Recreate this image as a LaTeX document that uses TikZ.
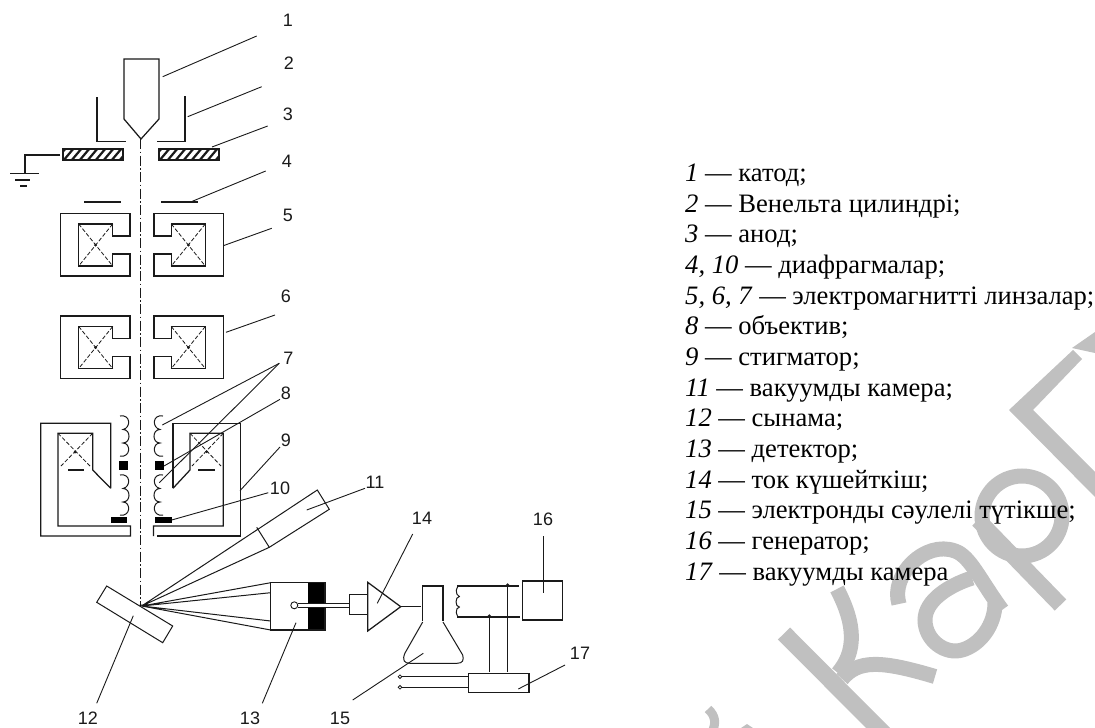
\documentclass[tikz,border=0pt]{standalone}
\usepackage{fontspec}
\setmainfont{Liberation Serif}
\newfontfamily\labfont{Liberation Sans}
\definecolor{ink}{HTML}{1A1A1A}
\definecolor{wm}{HTML}{C0C0C0}
\tikzset{
  part/.style={draw=ink,line width=1.25pt,line join=miter},
  leaderline/.style={draw=ink,line width=0.9pt},
  xcross/.style={draw=ink,line width=0.8pt,dash pattern=on 4pt off 2pt},
  axisline/.style={draw=ink,line width=0.9pt,dash pattern=on 10pt off 2.5pt on 1.5pt off 2.5pt},
  numlabel/.style={font=\labfont\fontsize{18}{20}\selectfont,text=ink,inner sep=0pt,anchor=center},
  legendline/.style={font=\fontsize{26.6}{30}\selectfont,text=black,inner sep=0pt,anchor=base west},
  wmstroke/.style={draw=wm,line width=#1,line cap=butt,line join=miter},
}
\newcommand{\leaderln}[3]{\coordinate (la#1) at #2;\coordinate (lb#1) at #3;\draw[leaderline] (la#1) -- (lb#1);}
\newcommand{\lenscore}{%
  \draw[part] (60.7,0)--(130,0)--(130,22.5)--(112.7,22.5)--(112.7,10.5)--(78.7,10.5)--(78.7,52.5)--(112.7,52.5)--(112.7,40.5)--(130,40.5)--(130,62.5)--(60.7,62.5)--cycle;
  \draw[xcross] (78.7,10.5)--(112.7,52.5) (112.7,10.5)--(78.7,52.5);
  \fill[ink] (95.5,31.5) circle (1.5);
}
\newcommand{\coilshape}{%
  \draw[part,line width=1pt] (0,0) .. controls (11,-2) and (11,12) .. (3,13.5)
    .. controls (11,13.5) and (11,27) .. (3,27)
    .. controls (11,27) and (11,42) .. (0,40);
}
\begin{document}
\begin{tikzpicture}[x=1pt,y=-1pt]
\useasboundingbox (0,0) rectangle (1095,728);
\fill[white] (0,0) rectangle (1095,728);
% watermark
\begin{scope}
\clip (0,0) rectangle (1095,728);
\draw[wmstroke=17pt] (784,633.5) -- (884,734);
\draw[wmstroke=15pt] (838,673) .. controls (856,652) and (856,625) .. (837,589);
\draw[wmstroke=15pt] (842,679) .. controls (858,660) and (880,660) .. (935,676.5);
\draw[wmstroke=15pt] (899,604) .. controls (890,575) and (925,540) .. (955,551) .. controls (970,556) and (980,580) .. (1002,610);
\draw[wmstroke=15pt] (972,578) .. controls (950,585) and (925,600) .. (925,620) .. controls (925,640) and (945,655) .. (962,650) .. controls (980,645) and (995,625) .. (995,603);
\draw[wmstroke=15pt] (1022,516) circle (40);
\draw[wmstroke=16pt] (1060.5,605) -- (978,520);
\fill[wm] (1073,350) -- (1009,410) -- (1095,497) -- (1095,472) -- (1033,410) -- (1082,359) -- cycle;
\fill[wm] (1072,348) -- (1095,332) -- (1095,353) -- cycle;
\draw[wmstroke=9pt] (708,709) .. controls (716,716) and (716,724) .. (712,732);
\fill[wm] (741,728) -- (747,724) -- (753,728) -- cycle;
\end{scope}
% axis
\coordinate (axisTop) at (140.5,139);
\coordinate (axisEnd) at (140.5,606);
\draw[axisline] (axisTop) -- (axisEnd);
% cathode and Wehnelt cylinder
\draw[part] (124,119)--(124,59)--(159,59)--(159,119)--(141,139)--cycle;
\draw[part] (97,97)--(97,141.5)--(126,141.5);
\draw[part] (185,96)--(185,141.5)--(157,141.5);
% anode
\foreach \x/\w in {63/60,159/60}{
  \begin{scope}
    \clip (\x,149) rectangle ++(\w,11);
    \foreach \i in {-1,...,8}{\draw[ink,line width=2.2pt] (\x+\i*8,161)--(\x+\i*8+11,148);}
  \end{scope}
  \draw[part] (\x,149) rectangle ++(\w,11);
}
% ground
\draw[part] (60,155)--(25,155)--(25,173);
\draw[part] (10,173.5)--(39,173.5) (15,180)--(30,180) (20,186)--(27,186);
% diaphragm 4
\draw[part] (84,202)--(121,202) (161,202)--(198,202);
% lenses 5 and 6
\begin{scope}[yshift=-213.5pt]\lenscore\end{scope}
\begin{scope}[yshift=-213.5pt,xshift=284pt,xscale=-1]\lenscore\end{scope}
\begin{scope}[yshift=-316pt]\lenscore\end{scope}
\begin{scope}[yshift=-316pt,xshift=284pt,xscale=-1]\lenscore\end{scope}
% objective lens left
\draw[part] (110.7,488.3)--(110.7,423.3)--(40.7,423.3)--(40.7,536)--(130.5,536)--(130.5,526)--(58,526)--(58,433.3)--(92.7,433.3)--(92.7,470)--(110.7,488.3);
\draw[part] (68,470)--(84,470);
\draw[xcross] (58,433.3)--(90,466) (92.7,433.3)--(61,466);
\fill[ink] (75,452) circle (1.5);
% objective lens right
\draw[part] (173,488.3)--(173,423.3)--(240.7,423.3)--(240.7,536)--(156.7,536);
\draw[part] (153.5,536)--(153.5,526)--(223.3,526)--(223.3,433.3)--(190,433.3)--(190,470)--(173,488.3);
\draw[part] (198,470)--(215,470);
\draw[xcross] (190,433.3)--(221,466) (223.3,433.3)--(192,466);
\fill[ink] (206.7,451.7) circle (1.5);
% coils
\begin{scope}[shift={(120,416)}]\coilshape\end{scope}
\begin{scope}[shift={(120,475)}]\coilshape\end{scope}
\begin{scope}[shift={(163,416)},xscale=-1]\coilshape\end{scope}
\begin{scope}[shift={(163,475)},xscale=-1]\coilshape\end{scope}
% black blocks
\fill[black] (119,461) rectangle (128.3,470);
\fill[black] (154.7,461) rectangle (164,470);
\fill[black] (111,516.7) rectangle (127.3,522.7);
\fill[black] (154.7,516.7) rectangle (172,522.7);
% sample
\coordinate (T) at (141.7,606);
\draw[part,line width=1pt] (106.7,586)--(172.7,626)--(162.7,642.7)--(96.7,602.3)--cycle;
\fill[black] (T) ++(-3,-1) -- ++(9,-1) -- ++(0,3) -- cycle;
% chamber 11
\draw[part,line width=1pt] (T)--(317.3,490)--(329.3,509.3)--(269.3,547.3)--cycle;
\draw[part,line width=1pt] (256.7,527.3)--(269.3,547.3);
% detector 13
\fill[black] (308.3,582.7) rectangle (325,630);
\draw[part] (270.7,582.7) rectangle (325,630);
\draw[part,line width=1pt] (T)--(270.7,582.7) (T)--(270.7,592.7) (T)--(270.7,621) (T)--(270.7,630);
\fill[white] (298,603.3) rectangle (349.3,607.3);
\draw[ink,line width=0.9pt] (298,603.3)--(349.3,603.3) (298,607.3)--(349.3,607.3);
\draw[ink,line width=0.9pt,fill=white] (294.3,605.3) circle (3.5);
\draw[part,fill=white] (349.3,594.7) rectangle (367.3,614.7);
% amplifier 14
\draw[part] (367.7,582.3)--(367.7,631)--(400.7,606.7)--cycle;
\draw[part] (400.7,606.7)--(421,606.7);
% CRT 15
\draw[part] (422.7,620.7)--(422.7,586)--(443,586)--(443,620.7);
\draw[part,line width=1pt] (422.7,622) -- (405,653) .. controls (402,660) and (404,663.3) .. (410,663.3) -- (457,663.3) .. controls (463,663.3) and (464,660) .. (462.7,655) -- (443,622);
% deflection coil and connections
\begin{scope}[shift={(461,586)},xscale=-0.55,yscale=0.78]\coilshape\end{scope}
\draw[part] (457.3,586)--(519,586) (457.3,617)--(520,617);
\draw[part] (507.7,585)--(507.7,671.7) (489.3,616)--(489.3,671.7);
\fill[ink] (507.7,585) circle (1.8) (489.3,616) circle (1.8);
% generator 16 and block 17
\draw[part] (522.3,581) rectangle (562.3,620);
\draw[part] (468.7,673.3) rectangle (529,692.3);
\draw[part] (402,676.7)--(468.7,676.7) (402,687.6)--(468.7,687.6);
\draw[ink,line width=0.8pt,fill=white] (400,676.7) circle (1.8) (400,687.3) circle (1.8);
% leaders
\leaderln{1}{(162.7,76.7)}{(256.7,36)}
\leaderln{2}{(187.7,116.7)}{(261.7,86.7)}
\leaderln{3}{(212,147)}{(267.7,126)}
\leaderln{4}{(192.3,201.3)}{(265.7,171)}
\leaderln{5}{(223.3,245.7)}{(271.7,228.3)}
\leaderln{6}{(226,332.3)}{(275,315)}
\leaderln{7a}{(279.3,363.3)}{(162.3,425)}
\leaderln{7b}{(279.3,363.3)}{(159.3,482.7)}
\leaderln{8}{(280,399.3)}{(164,466)}
\leaderln{9}{(280,447)}{(240,490.7)}
\leaderln{10}{(171.7,520)}{(268.3,492.7)}
\leaderln{11}{(306.7,510)}{(365,488.3)}
\leaderln{12}{(133.3,615.7)}{(96.7,703.3)}
\leaderln{13}{(296,622.7)}{(262.3,703.3)}
\leaderln{14}{(377.3,603.3)}{(412.7,534)}
\leaderln{15}{(423.3,653.3)}{(352.7,700)}
\leaderln{16}{(543.7,592.7)}{(543.7,535.7)}
\leaderln{17}{(518.3,689)}{(565,665)}
% number labels
\foreach \n/\x/\y in {1/288/20,2/289/63,3/288/114,4/287/161,5/288/215,6/286/296,7/288.5/358,8/286/393,9/286/440,10/280/488,11/375/482,12/88/718,13/250/718,14/422/518,15/340/718,16/543/519,17/580/653}{
  \node[numlabel] (num\n) at (\x,\y) {\n};
}
% legend
\node[legendline] (leg1) at (685,181.3) {\textit{1} — катод;};
\node[legendline] (leg2) at (685,212) {\textit{2} — Венельта цилиндрі;};
\node[legendline] (leg3) at (685,242.6) {\textit{3} — анод;};
\node[legendline] (leg4) at (685,273.3) {\textit{4, 10} — диафрагмалар;};
\node[legendline] (leg5) at (685,304) {\textit{5, 6, 7} — электромагнитті линзалар;};
\node[legendline] (leg6) at (685,334.6) {\textit{8} — объектив;};
\node[legendline] (leg7) at (685,365.3) {\textit{9} — стигматор;};
\node[legendline] (leg8) at (685,396) {\textit{11} — вакуумды камера;};
\node[legendline] (leg9) at (685,426.6) {\textit{12} — сынама;};
\node[legendline] (leg10) at (685,457.3) {\textit{13} — детектор;};
\node[legendline] (leg11) at (685,488) {\textit{14} — ток күшейткіш;};
\node[legendline] (leg12) at (685,518.6) {\textit{15} — электронды сәулелі түтікше;};
\node[legendline] (leg13) at (685,549.3) {\textit{16} — генератор;};
\node[legendline] (leg14) at (685,580) {\textit{17} — вакуумды камера};
\end{tikzpicture}
\end{document}
